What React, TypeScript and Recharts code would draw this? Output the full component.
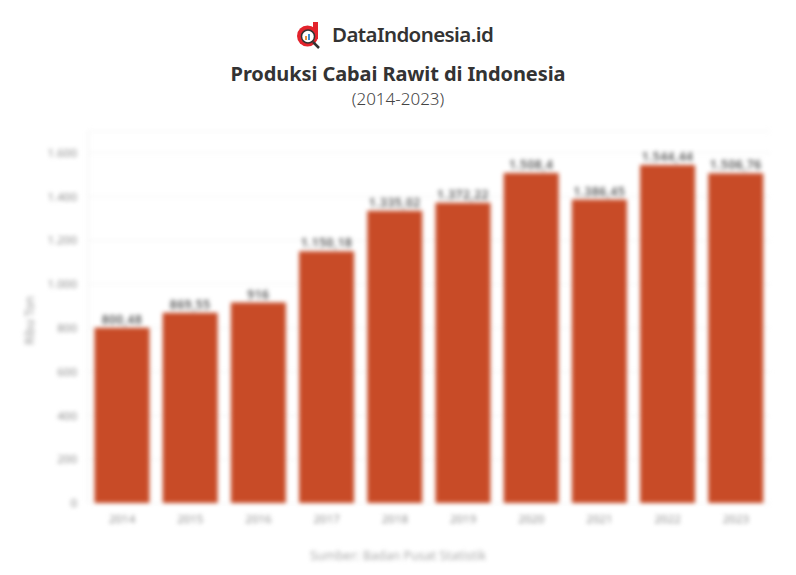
import { Bar, BarChart, CartesianGrid, LabelList, XAxis, YAxis } from "recharts";

const YEARS = ["2014", "2015", "2016", "2017", "2018", "2019", "2020", "2021", "2022", "2023"];
const PRODUCTION = [800.48, 869.55, 916, 1150.18, 1335.02, 1372.22, 1508.4, 1386.45, 1544.44, 1506.76];
const LABELS = ["800,48", "869,55", "916", "1.150,18", "1.335,02", "1.372,22", "1.508,4", "1.386,45", "1.544,44", "1.506,76"];
const TICKS = [0, 200, 400, 600, 800, 1000, 1200, 1400, 1600];
const TICK_LABELS = ["0", "200", "400", "600", "800", "1.000", "1.200", "1.400", "1.600"];

const rows = YEARS.map((year, i) => ({ year, value: PRODUCTION[i], label: LABELS[i] }));

const FONT = "'Noto Sans', sans-serif";

function Logo() {
  return (
    <svg width={26} height={28} viewBox="0 0 26 28" style={{ position: "absolute", left: 295, top: 21 }}>
      <path d="M18 1h5v17h-5z" fill="#e3232c" />
      <circle cx={12.5} cy={15} r={10.5} fill="#e3232c" />
      <circle cx={13} cy={15.5} r={6.5} fill="#fff" stroke="#333" strokeWidth={1.5} />
      <rect x={10} y={15} width={2} height={4} fill="#e8913a" />
      <rect x={13} y={13} width={2} height={6} fill="#3f8fd0" />
      <path d="M18 21l6 6" stroke="#333" strokeWidth={2.5} />
    </svg>
  );
}

export default function App() {
  return (
    <div style={{ position: "absolute", left: 0, top: 0, width: 796, height: 575, background: "#fff", fontFamily: FONT, overflow: "hidden" }}>
      <Logo />
      <div style={{ position: "absolute", left: 332, top: 19, fontSize: 20.5, fontWeight: 600, color: "#333", lineHeight: "30px", letterSpacing: -0.6 }}>
        DataIndonesia.id
      </div>
      <div style={{ position: "absolute", left: 0, width: 796, top: 60, textAlign: "center", fontSize: 20, fontWeight: 700, color: "#333", lineHeight: "28px", letterSpacing: -0.1 }}>
        Produksi Cabai Rawit di Indonesia
      </div>
      <div style={{ position: "absolute", left: 0, width: 796, top: 87, textAlign: "center", fontSize: 17, fontWeight: 300, color: "#444", lineHeight: "24px" }}>
        (2014-2023)
      </div>
      <div style={{ position: "absolute", left: 0, top: 0, filter: "blur(1.9px)" }}>
        <BarChart
          width={796}
          height={575}
          data={rows}
          margin={{ top: 131, right: 26, bottom: 42, left: 38 }}
          barCategoryGap="9.5%"
        >
          <CartesianGrid vertical={false} stroke="#f3f3f3" />
          <XAxis
            dataKey="year"
            axisLine={false}
            tickLine={false}
            interval={0}
            tickMargin={6}
            height={30}
            tick={{ fontSize: 11.5, fill: "#8f8f8f", fontFamily: FONT }}
          />
          <YAxis
            width={50}
            domain={[0, 1700]}
            ticks={TICKS}
            interval={0}
            axisLine={{ stroke: "#eee" }}
            tickLine={false}
            tickMargin={5}
            tickFormatter={(v: number) => TICK_LABELS[TICKS.indexOf(v)]}
            tick={{ fontSize: 11.5, fill: "#8f8f8f", fontFamily: FONT }}
            label={{ value: "Ribu Ton", angle: -90, position: "insideLeft", offset: -8, dy: 28, style: { fontSize: 12, fill: "#999", fontFamily: FONT } }}
          />
          <Bar dataKey="value" fill="#c84b27" isAnimationActive={false}>
            <LabelList dataKey="label" position="top" offset={4} style={{ fontSize: 12, fontWeight: 600, fill: "#555", fontFamily: FONT, letterSpacing: 0.5 }} />
          </Bar>
        </BarChart>
        <div style={{ position: "absolute", left: 0, width: 796, top: 547, textAlign: "center", fontSize: 12.5, color: "#aaa", lineHeight: "18px" }}>
          Sumber: Badan Pusat Statistik
        </div>
      </div>
    </div>
  );
}
